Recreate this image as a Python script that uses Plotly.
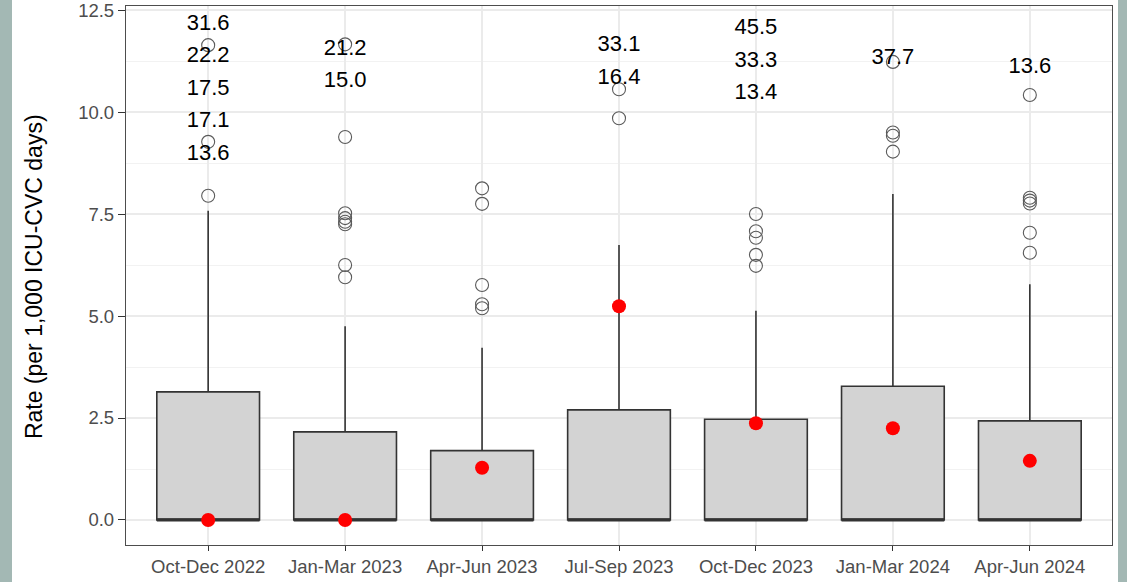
import plotly.graph_objects as go

categories = ["Oct-Dec 2022", "Jan-Mar 2023", "Apr-Jun 2023", "Jul-Sep 2023",
              "Oct-Dec 2023", "Jan-Mar 2024", "Apr-Jun 2024"]
q1 = [0, 0, 0, 0, 0, 0, 0]
median = [0, 0, 0, 0, 0, 0, 0]
q3 = [3.14, 2.16, 1.70, 2.70, 2.47, 3.28, 2.43]
lower_whisker = [0, 0, 0, 0, 0, 0, 0]
upper_whisker = [7.58, 4.75, 4.22, 6.74, 5.13, 7.99, 5.78]
pooled_rate = [0.0, 0.0, 1.28, 5.24, 2.37, 2.25, 1.45]

outliers = [
    [7.95, 9.27, 11.64],
    [5.95, 6.25, 7.25, 7.31, 7.40, 7.52, 9.39, 11.66],
    [5.19, 5.29, 5.76, 7.75, 8.13],
    [9.85, 10.56],
    [6.23, 6.50, 6.92, 7.08, 7.50],
    [9.03, 9.42, 9.50, 11.23],
    [6.55, 7.04, 7.76, 7.83, 7.90, 10.42],
]

# off-scale outlier values (text) and the heights where they are printed
offscale_labels = [
    ["31.6", "22.2", "17.5", "17.1", "13.6"],
    ["21.2", "15.0"],
    [],
    ["33.1", "16.4"],
    ["45.5", "33.3", "13.4"],
    ["37.7"],
    ["13.6"],
]
offscale_label_y = [
    [12.15, 11.37, 10.56, 9.76, 8.96],
    [11.54, 10.74],
    [],
    [11.63, 10.83],
    [12.05, 11.25, 10.46],
    [11.32],
    [11.09],
]

y_ticks = [0.0, 2.5, 5.0, 7.5, 10.0, 12.5]
y_tick_text = ["0.0", "2.5", "5.0", "7.5", "10.0", "12.5"]

FONT = "Liberation Sans, Arial, sans-serif"
BOX_W = 0.75
pos = list(range(1, len(categories) + 1))

fig = go.Figure()

fig.add_trace(go.Box(
    x=pos, q1=q1, median=median, q3=q3,
    lowerfence=lower_whisker, upperfence=upper_whisker,
    width=BOX_W, whiskerwidth=0, boxpoints=False,
    fillcolor="#d3d3d3", line=dict(color="#333333", width=1.6),
    showlegend=False, hoverinfo="skip",
))

# thicker median line (ggplot style)
mx, my = [], []
for p, m in zip(pos, median):
    mx += [p - BOX_W / 2, p + BOX_W / 2, None]
    my += [m, m, None]
fig.add_trace(go.Scatter(x=mx, y=my, mode="lines",
                         line=dict(color="#333333", width=3.2),
                         showlegend=False, hoverinfo="skip"))

ox, oy = [], []
for p, vals in zip(pos, outliers):
    ox += [p] * len(vals)
    oy += vals
fig.add_trace(go.Scatter(x=ox, y=oy, mode="markers",
                         marker=dict(symbol="circle-open", size=13,
                                     color="#5a5a5a", line=dict(width=1.1)),
                         showlegend=False, hoverinfo="skip"))

fig.add_trace(go.Scatter(x=pos, y=pooled_rate, mode="markers",
                         marker=dict(symbol="circle", size=14, color="#ff0000"),
                         showlegend=False, hoverinfo="skip"))

tx, ty, tt = [], [], []
for p, labs, ys in zip(pos, offscale_labels, offscale_label_y):
    tx += [p] * len(labs)
    ty += ys
    tt += labs
fig.add_trace(go.Scatter(x=tx, y=ty, text=tt, mode="text",
                         textposition="middle center",
                         textfont=dict(family=FONT, size=22, color="#000000"),
                         showlegend=False, hoverinfo="skip"))

L, R, T, B = 126, 15, 6, 37
W, H = 1127, 582
pw = W - L - R

fig.update_layout(
    width=W, height=H,
    margin=dict(l=L, r=R, t=T, b=B, pad=0),
    paper_bgcolor="white", plot_bgcolor="white",
    font=dict(family=FONT),
    xaxis=dict(
        range=[0.4, 7.6], tickmode="array", tickvals=pos, ticktext=categories,
        automargin=False, ticklabeloverflow="allow",
        showgrid=True, gridcolor="#ebebeb", gridwidth=1.5,
        zeroline=False, showline=True, mirror=True, linecolor="#4d4d4d", linewidth=1.3,
        ticks="outside", ticklen=5, tickwidth=1.2, tickcolor="#333333",
        tickfont=dict(family=FONT, size=18.5, color="#4d4d4d"),
    ),
    yaxis=dict(
        range=[-0.613, 12.6], tickmode="array", tickvals=y_ticks, ticktext=y_tick_text,
        automargin=False, ticklabeloverflow="allow",
        showgrid=True, gridcolor="#ebebeb", gridwidth=1.5,
        minor=dict(dtick=1.25, tick0=0, showgrid=True, gridcolor="#f2f2f2",
                   gridwidth=1, ticks=""),
        zeroline=False, showline=True, mirror=True, linecolor="#4d4d4d", linewidth=1.3,
        ticks="outside", ticklen=7, tickwidth=1.2, tickcolor="#333333",
        tickfont=dict(family=FONT, size=18.5, color="#4d4d4d"),
    ),
    annotations=[dict(
        text="Rate (per 1,000 ICU-CVC days)", textangle=-90,
        xref="paper", yref="paper", x=(34 - L) / pw, y=0.497,
        xanchor="center", yanchor="middle", showarrow=False,
        font=dict(family=FONT, size=23, color="#000000"),
    )],
    shapes=[
        dict(type="rect", xref="paper", yref="paper",
             x0=(0 - L) / pw, x1=(12 - L) / pw, y0=-1, y1=2,
             fillcolor="#a3b8b4", line=dict(width=0), layer="below"),
        dict(type="rect", xref="paper", yref="paper",
             x0=(1118 - L) / pw, x1=(1130 - L) / pw, y0=-1, y1=2,
             fillcolor="#a3b8b4", line=dict(width=0), layer="below"),
    ],
)

fig.write_html("out.html")
